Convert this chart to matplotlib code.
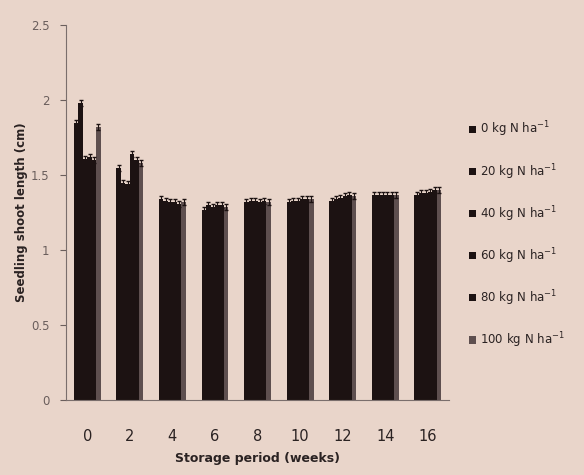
import matplotlib.pyplot as plt
import numpy as np

weeks = ['0', '2', '4', '6', '8', '10', '12', '14', '16']
rates = ['0 kg N ha$^{-1}$', '20 kg N ha$^{-1}$', '40 kg N ha$^{-1}$',
         '60 kg N ha$^{-1}$', '80 kg N ha$^{-1}$', '100 kg N ha$^{-1}$']

# shoot length (cm) per N rate, one value per storage week
n0 = [1.85, 1.55, 1.34, 1.27, 1.32, 1.32, 1.33, 1.37, 1.37]
n20 = [1.98, 1.45, 1.33, 1.30, 1.33, 1.33, 1.34, 1.37, 1.38]
n40 = [1.61, 1.44, 1.32, 1.29, 1.33, 1.33, 1.35, 1.37, 1.38]
n60 = [1.62, 1.64, 1.32, 1.30, 1.32, 1.34, 1.36, 1.37, 1.39]
n80 = [1.60, 1.60, 1.31, 1.30, 1.33, 1.34, 1.37, 1.37, 1.40]
n100 = [1.82, 1.58, 1.32, 1.29, 1.32, 1.34, 1.36, 1.37, 1.40]
errs = [0.02, 0.02, 0.02, 0.02, 0.02, 0.02]

series = [n0, n20, n40, n60, n80, n100]
colors = ['#1c1212', '#1c1212', '#1c1212', '#1c1212', '#1c1212', '#5e4f4f']

bg = '#e9d5ca'
fig = plt.figure(figsize=(5.84, 4.75), dpi=100, facecolor=bg)
ax = fig.add_axes([0.113, 0.158, 0.656, 0.789], facecolor=bg)

x = np.arange(len(weeks))
w = 0.105
for i, (vals, c) in enumerate(zip(series, colors)):
    ax.bar(x + (i - 2.5) * w, vals, w, color=c, label=rates[i],
           yerr=errs[i], error_kw=dict(ecolor='#1c1212', elinewidth=0.8, capsize=1.5))

ax.set_xlim(-0.5, 8.5)
ax.set_ylim(0, 2.5)
ax.set_yticks([0, 0.5, 1, 1.5, 2, 2.5])
ax.set_yticklabels(['0', '0.5', '1', '1.5', '2', '2.5'])
ax.set_xticks(x)
ax.set_xticklabels(weeks)
ax.tick_params(axis='x', length=0, pad=21, labelsize=10.5, colors='#2a2222')
ax.tick_params(axis='y', length=4, labelsize=8.5, colors='#6a5e5c', pad=8)
for s in ['top', 'right']:
    ax.spines[s].set_visible(False)
for s in ['left', 'bottom']:
    ax.spines[s].set_color('#7a6e6c')

ax.set_ylabel('Seedling shoot length (cm)', fontsize=8.5, fontweight='bold',
              color='#2a2222', labelpad=2)
ax.set_xlabel('Storage period (weeks)', fontsize=9, fontweight='bold',
              color='#2a2222', labelpad=6)

fig.legend(loc='upper left', bbox_to_anchor=(0.785, 0.77), frameon=False,
           fontsize=8.5, labelspacing=1.9, handlelength=0.6, handleheight=0.6,
           handletextpad=0.3, labelcolor='#2a2222')

fig.savefig('out.png', dpi=100, facecolor=bg)
